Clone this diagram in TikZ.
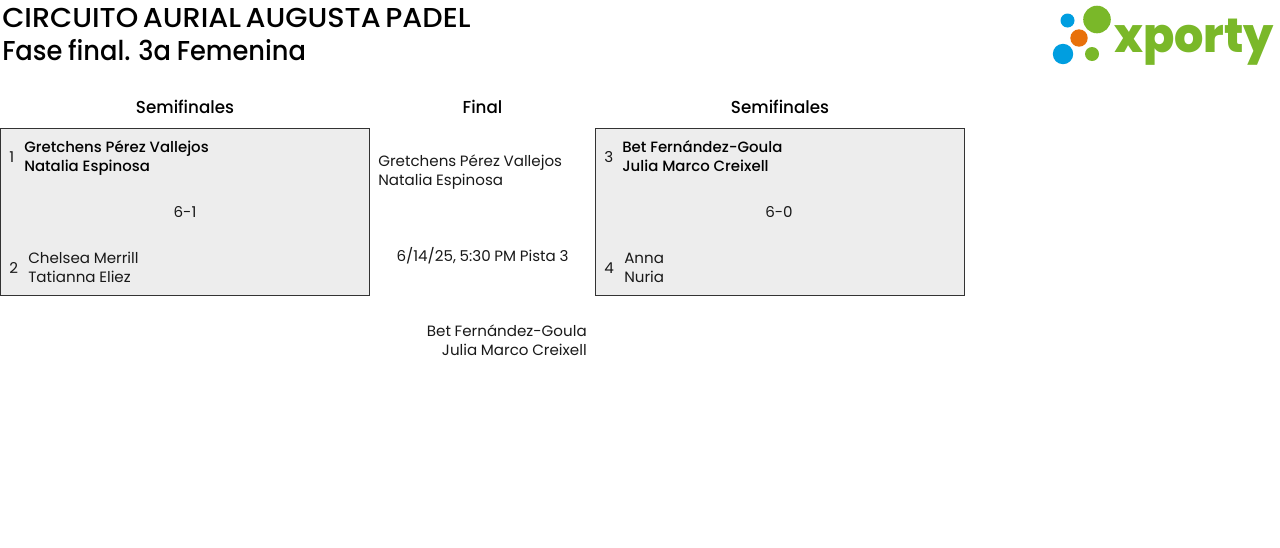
\documentclass[tikz,border=0pt]{standalone}
\usepackage{fontspec}
\setmainfont{Poppins}[FakeStretch=1.012,WordSpace=0.9]
\newfontfamily\medfont{Poppins Medium}[FakeStretch=1.0,WordSpace=1.0]
\newfontfamily\headfont{Poppins Medium}[FakeStretch=0.965]
\newfontfamily\titleafont{Poppins Medium}[FakeStretch=1.05,WordSpace=0.6]
\newfontfamily\titlebfont{Poppins Medium}[FakeStretch=0.94,WordSpace=0.85]
\newfontfamily\logofont{Poppins ExtraBold}[FakeStretch=0.96]
\definecolor{boxfill}{HTML}{EDEDED}
\definecolor{xgreen}{HTML}{7AB829}
\definecolor{xblue}{HTML}{009EE0}
\definecolor{xorange}{HTML}{E8710A}
\tikzset{
 x=0.75pt,y=-0.75pt,
 title/.style={anchor=base west,inner sep=0pt,text=black},
 head/.style={anchor=base,inner sep=0pt,font=\headfont\fontsize{13}{16}\selectfont,text=black},
 body/.style={anchor=base west,inner sep=0pt,font=\fontsize{11.2}{14}\selectfont,text=black!90},
 bodyr/.style={body,anchor=base east},
 bodyc/.style={body,anchor=base},
 strong/.style={body,font=\medfont\fontsize{11.2}{14}\selectfont,text=black},
 match/.style={draw=black!80,fill=boxfill,line width=0.75pt,inner sep=0pt,anchor=north west,minimum width=276.75pt,minimum height=125.25pt},
}
\begin{document}
\begin{tikzpicture}
\useasboundingbox (0,0) rectangle (1280,547);
\node[title,font=\titleafont\fontsize{20.5}{24}\selectfont] (t1) at (2,27) {CIRCUITO AURIAL AUGUSTA PADEL};
\node[title,font=\titlebfont\fontsize{20.5}{24}\selectfont] (t2) at (2,60) {Fase final. 3a Femenina};
\fill[xblue] (1067.5,20.5) circle (7);
\fill[xgreen] (1097,19.5) circle (13.8);
\fill[xorange] (1079,38) circle (8.7);
\fill[xblue] (1063,54) circle (10.2);
\fill[xgreen] (1092,54) circle (7);
\node[anchor=base west,inner sep=0pt,text=xgreen,font=\logofont\fontsize{36}{36}\selectfont] (logo) at (1114,52) {xporty};
\node[head] (h1) at (185,113) {Semifinales};
\node[head] (h2) at (482.5,113) {Final};
\node[head] (h3) at (780,113) {Semifinales};
\node[match] (m1) at (0,128) {};
\node[match] (m2) at (595,128) {};
\node[strong] (a1) at (24,152) {Gretchens Pérez Vallejos};
\node[strong] (a2) at (24,171) {Natalia Espinosa};
\node[body] (s1) at (9,162) {1};
\node[bodyc] (r1) at (185,217) {6-1};
\node[body] (s2) at (9,273) {2};
\node[body] (b1) at (28,263) {Chelsea Merrill};
\node[body] (b2) at (28,282) {Tatianna Eliez};
\node[body] (s3) at (604,162) {3};
\node[strong] (c1) at (622,152) {Bet Fernández-Goula};
\node[strong] (c2) at (622,171) {Julia Marco Creixell};
\node[bodyc] (r2) at (779,217) {6-0};
\node[body] (s4) at (604,273) {4};
\node[body] (d1) at (624,263) {Anna};
\node[body] (d2) at (624,282) {Nuria};
\node[body] (f1) at (378,166) {Gretchens Pérez Vallejos};
\node[body] (f2) at (378,185) {Natalia Espinosa};
\node[bodyc] (f3) at (482.5,261) {6/14/25, 5:30 PM Pista 3};
\node[bodyr] (f4) at (587,336) {Bet Fernández-Goula};
\node[bodyr] (f5) at (587,355) {Julia Marco Creixell};
\end{tikzpicture}
\end{document}
